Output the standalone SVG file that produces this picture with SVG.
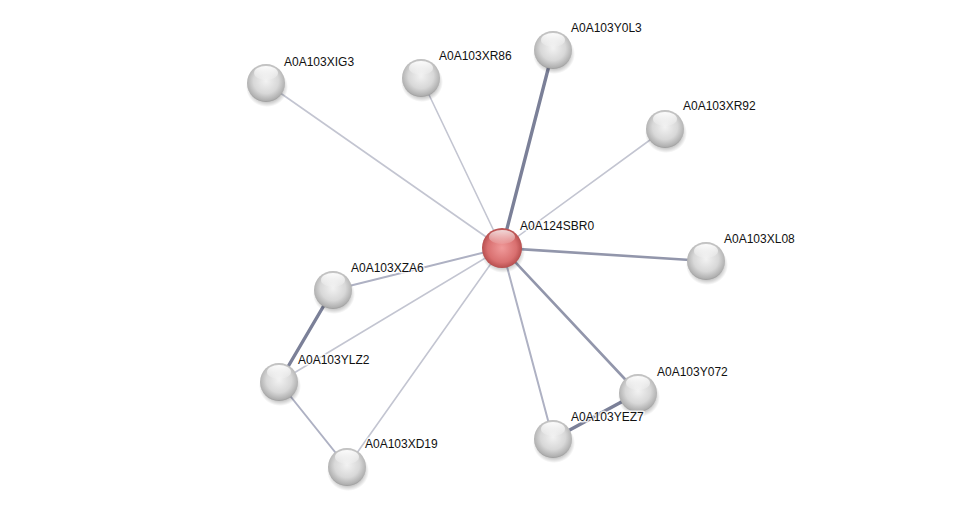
<svg xmlns="http://www.w3.org/2000/svg" width="976" height="512" viewBox="0 0 976 512">
<defs>
<radialGradient id="gGrey" cx="0.5" cy="0.45" r="0.6">
<stop offset="0" stop-color="#f2f2f2"/>
<stop offset="0.55" stop-color="#d8d8d8"/>
<stop offset="0.85" stop-color="#b0b0b0"/>
<stop offset="1" stop-color="#7e7e7e"/>
</radialGradient>
<radialGradient id="gRed" cx="0.5" cy="0.5" r="0.6">
<stop offset="0" stop-color="#f09a9a"/>
<stop offset="0.6" stop-color="#d97070"/>
<stop offset="0.88" stop-color="#b04848"/>
<stop offset="1" stop-color="#862c2c"/>
</radialGradient>
<linearGradient id="gHi" x1="0" y1="0" x2="0" y2="1">
<stop offset="0" stop-color="#ffffff" stop-opacity="0.95"/>
<stop offset="1" stop-color="#ffffff" stop-opacity="0.1"/>
</linearGradient>
<radialGradient id="gShadow" cx="0.5" cy="0.5" r="0.5">
<stop offset="0.6" stop-color="#000" stop-opacity="0.35"/>
<stop offset="1" stop-color="#000" stop-opacity="0"/>
</radialGradient>
<g id="sphere">
<ellipse cx="1" cy="4" rx="21" ry="20" fill="url(#gShadow)"/>
<circle r="19" fill="url(#gGrey)"/>
<ellipse cx="0" cy="-10" rx="12" ry="7" fill="url(#gHi)"/>
</g>
</defs>
<style>
.e{fill:none;stroke-linecap:round}
.t1{stroke-width:1.6;stroke:#c3c5d1}
.t2{stroke-width:2;stroke:#aeb1c3}
.t3{stroke-width:2.6;stroke:#9296ab}
.t4{stroke-width:3.4;stroke:#7b8098}
text{font-family:"Liberation Sans",Arial,sans-serif;font-size:12px;fill:#111;stroke:#fff;stroke-width:3;stroke-opacity:0.8;paint-order:stroke;stroke-linejoin:round}
</style>
<rect width="976" height="512" fill="#fff"/>
<g id="connectors">
<line class="e t1" x1="502" y1="248" x2="266" y2="83"/>
<line class="e t1" x1="502" y1="248" x2="421" y2="78"/>
<line class="e t4" x1="502" y1="248" x2="553" y2="50"/>
<line class="e t1" x1="502" y1="248" x2="665" y2="129"/>
<line class="e t3" x1="502" y1="248" x2="706" y2="261"/>
<line class="e t2" x1="502" y1="248" x2="333" y2="290"/>
<line class="e t1" x1="502" y1="248" x2="279" y2="382"/>
<line class="e t1" x1="502" y1="248" x2="347" y2="467"/>
<line class="e t3" x1="502" y1="248" x2="638" y2="393"/>
<line class="e t2" x1="502" y1="248" x2="553" y2="439"/>
<line class="e t4" x1="333" y1="290" x2="279" y2="382"/>
<line class="e t2" x1="279" y1="382" x2="347" y2="467"/>
<line class="e t4" x1="638" y1="393" x2="553" y2="439"/>
</g>
<g id="A0A103XIG3"><use href="#sphere" x="266" y="83"/><text x="284" y="66">A0A103XIG3</text></g>
<g id="A0A103XR86"><use href="#sphere" x="421" y="78"/><text x="439" y="60">A0A103XR86</text></g>
<g id="A0A103Y0L3"><use href="#sphere" x="553" y="50"/><text x="571" y="32">A0A103Y0L3</text></g>
<g id="A0A103XR92"><use href="#sphere" x="665" y="129"/><text x="683" y="110">A0A103XR92</text></g>
<g id="A0A103XL08"><use href="#sphere" x="706" y="261"/><text x="724" y="243">A0A103XL08</text></g>
<g id="A0A103XZA6"><use href="#sphere" x="333" y="290"/><text x="351" y="272">A0A103XZA6</text></g>
<g id="A0A103YLZ2"><use href="#sphere" x="279" y="382"/><text x="298" y="364">A0A103YLZ2</text></g>
<g id="A0A103XD19"><use href="#sphere" x="347" y="467"/><text x="365" y="448">A0A103XD19</text></g>
<g id="A0A103Y072"><use href="#sphere" x="638" y="393"/><text x="657" y="376">A0A103Y072</text></g>
<g id="A0A103YEZ7"><use href="#sphere" x="553" y="439"/><text x="571" y="421">A0A103YEZ7</text></g>
<g id="A0A124SBR0">
<ellipse cx="503" cy="252" rx="22" ry="21" fill="url(#gShadow)"/>
<circle cx="502" cy="248" r="20" fill="url(#gRed)"/>
<ellipse cx="502" cy="237" rx="13" ry="7" fill="url(#gHi)" opacity="0.8"/>
<text x="520" y="230">A0A124SBR0</text>
</g>
</svg>
